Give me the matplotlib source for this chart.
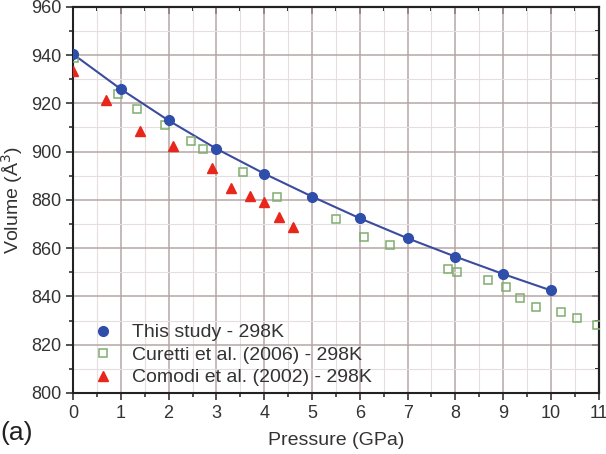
import matplotlib
matplotlib.use("Agg")
import matplotlib.pyplot as plt
from matplotlib.ticker import MultipleLocator

plt.rcParams['font.family'] = ['Liberation Sans', 'DejaVu Sans']

# This study - 298K
p_this = [0, 1, 2, 3, 4, 5, 6, 7, 8, 9, 10]
v_this = [940.4, 925.9, 912.9, 901.2, 890.9, 881.4, 872.4, 864.1, 856.5, 849.3, 842.5]

# Curetti et al. (2006) - 298K
p_cur = [0.02, 0.95, 1.33, 1.92, 2.47, 2.71, 3.55, 4.26, 5.50, 6.09, 6.64,
         7.85, 8.03, 8.69, 9.07, 9.35, 9.69, 10.22, 10.55, 10.96]
v_cur = [938.7, 923.8, 917.6, 911.1, 904.2, 901.1, 891.7, 881.0, 872.0, 864.5, 861.3,
         851.3, 850.0, 846.8, 843.8, 839.5, 835.8, 833.7, 831.2, 828.2]

# Comodi et al. (2002) - 298K
p_com = [0.0, 0.69, 1.40, 2.10, 2.90, 3.31, 3.70, 4.00, 4.32, 4.61]
v_com = [933.2, 921.5, 908.6, 902.4, 893.1, 884.8, 881.7, 879.3, 872.8, 868.7]

labels = ["This study - 298K", "Curetti et al. (2006) - 298K", "Comodi et al. (2002) - 298K"]

fig = plt.figure(figsize=(6.06, 4.54), dpi=100)
ax = fig.add_axes([0.1205, 0.1344, 0.8675, 0.8506])

ax.set_xlim(0, 11)
ax.set_ylim(800, 960)
ax.xaxis.set_major_locator(MultipleLocator(1))
ax.xaxis.set_minor_locator(MultipleLocator(0.5))
ax.yaxis.set_major_locator(MultipleLocator(20))
ax.yaxis.set_minor_locator(MultipleLocator(10))

ax.grid(which='major', color='#b5a5a7', linewidth=1.1, zorder=0)
ax.grid(which='minor', color='#e6dede', linewidth=0.8, zorder=0)
ax.set_axisbelow(True)

ax.plot(p_this, v_this, color='#3b4c9e', linewidth=1.5, zorder=2)
h1, = ax.plot(p_this, v_this, linestyle='none', marker='o', markersize=7,
              color='#2f4eaa', zorder=4, label=labels[0])
h2, = ax.plot(p_cur, v_cur, linestyle='none', marker='s', markersize=6,
              markerfacecolor='none', markeredgecolor='#7eae6e', markeredgewidth=1.1,
              zorder=3, label=labels[1])
h3, = ax.plot(p_com, v_com, linestyle='none', marker='^', markersize=7.5,
              color='#e8261b', zorder=3, label=labels[2])

for s in ax.spines.values():
    s.set_linewidth(1.5)
    s.set_color('#222222')

ax.tick_params(which='both', direction='out', labelsize=13, colors='#333333', width=1.2)
ax.tick_params(which='major', length=5)
ax.tick_params(which='minor', length=3)

top = ax.secondary_xaxis('top')
top.xaxis.set_major_locator(MultipleLocator(1))
top.xaxis.set_minor_locator(MultipleLocator(0.5))
top.tick_params(which='both', direction='in', labeltop=False, width=1.2)
top.tick_params(which='major', length=5)
top.tick_params(which='minor', length=3)
top.spines['top'].set_linewidth(1.5)

right = ax.secondary_yaxis('right')
right.yaxis.set_major_locator(MultipleLocator(20))
right.yaxis.set_minor_locator(MultipleLocator(10))
right.tick_params(which='both', direction='in', labelright=False, width=1.2)
right.tick_params(which='major', length=5)
right.tick_params(which='minor', length=3)
right.spines['right'].set_linewidth(1.5)

ax.set_xlabel("Pressure (GPa)", fontsize=14, color='#333333', labelpad=7)
ax.set_ylabel("Volume (Å$^3$)", fontsize=14, color='#333333', labelpad=4)

leg = ax.legend(handles=[h1, h2, h3], loc='lower left', frameon=False,
                fontsize=14, handlelength=1.0, handletextpad=1.0,
                labelspacing=0.25, borderaxespad=0.3, bbox_to_anchor=(0.013, -0.018))
for t in leg.get_texts():
    t.set_color('#333333')

fig.text(0.0, 0.03, "(a)", fontsize=19, color='#222222', ha='left', va='baseline')

fig.savefig("out.png", dpi=100)
